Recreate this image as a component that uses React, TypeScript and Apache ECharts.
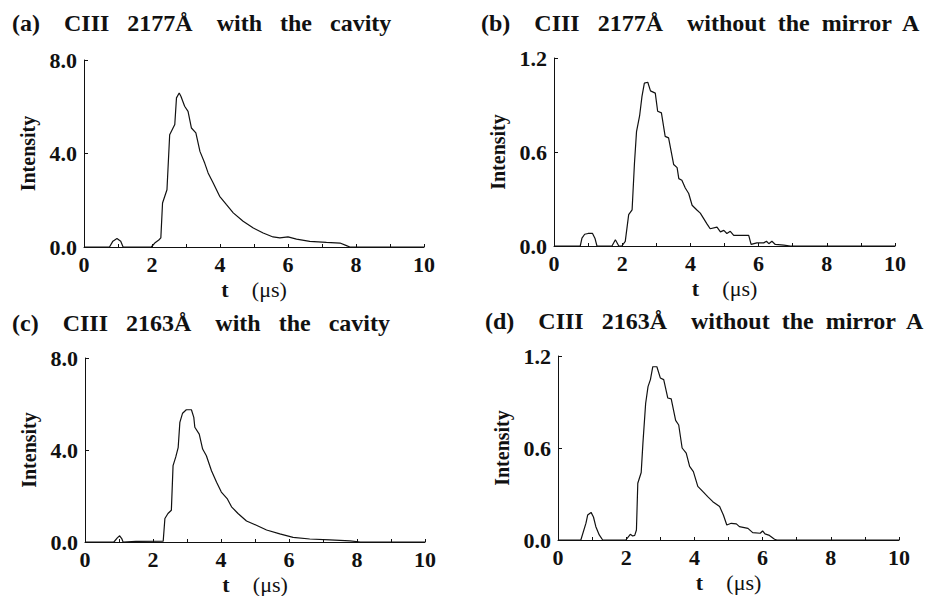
import React, { useEffect, useRef } from "react";
import * as echarts from "echarts";

// Panel (a): CIII 2177Å with the cavity
const tA = [0, 0.75, 0.85, 0.97, 1.08, 1.15, 1.98, 2.08, 2.2, 2.26, 2.31, 2.44, 2.52, 2.67, 2.72, 2.8, 2.85, 2.96, 3.06, 3.16, 3.29, 3.41, 3.55, 3.65, 3.8, 3.99, 4.19, 4.39, 4.68, 4.98, 5.27, 5.56, 5.76, 6.0, 6.25, 6.64, 7.13, 7.53, 7.72, 7.82, 10];
const iA = [0, 0, 0.25, 0.36, 0.25, 0, 0, 0.17, 0.3, 0.39, 1.88, 2.45, 4.8, 5.24, 6.38, 6.59, 6.45, 6.02, 5.8, 5.09, 4.88, 4.09, 3.59, 3.17, 2.74, 2.17, 1.81, 1.46, 1.1, 0.81, 0.6, 0.43, 0.39, 0.43, 0.34, 0.24, 0.2, 0.17, 0.06, 0, 0];

// Panel (b): CIII 2177Å without the mirror A
const tB = [0, 0.77, 0.82, 0.9, 1.0, 1.13, 1.2, 1.26, 1.7, 1.8, 1.9, 1.99, 2.09, 2.19, 2.29, 2.36, 2.42, 2.51, 2.58, 2.65, 2.75, 2.83, 2.97, 3.04, 3.15, 3.26, 3.36, 3.51, 3.61, 3.66, 3.75, 3.85, 3.95, 4.05, 4.19, 4.29, 4.39, 4.49, 4.58, 4.78, 4.88, 4.98, 5.07, 5.17, 5.27, 5.71, 5.78, 5.95, 6.15, 6.23, 6.3, 6.39, 6.49, 6.74, 6.93, 10];
const iB = [0, 0, 0.05, 0.075, 0.08, 0.08, 0.05, 0, 0, 0.04, 0, 0, 0.03, 0.2, 0.23, 0.53, 0.73, 0.83, 0.955, 1.04, 1.045, 0.99, 0.976, 0.86, 0.85, 0.7, 0.69, 0.52, 0.5, 0.43, 0.42, 0.37, 0.335, 0.26, 0.23, 0.21, 0.175, 0.14, 0.11, 0.12, 0.09, 0.1, 0.08, 0.094, 0.068, 0.068, 0.01, 0.02, 0.02, 0.03, 0.015, 0.03, 0.01, 0.005, 0, 0];

// Panel (c): CIII 2163Å with the cavity
const tC = [0, 0.85, 0.95, 1.02, 1.08, 1.12, 1.5, 2.3, 2.35, 2.44, 2.54, 2.59, 2.67, 2.74, 2.79, 2.87, 2.98, 3.13, 3.2, 3.23, 3.36, 3.46, 3.57, 3.72, 3.87, 4.01, 4.18, 4.31, 4.5, 4.75, 5.04, 5.34, 5.73, 6.12, 6.61, 7.2, 7.79, 8.1, 10];
const iC = [0, 0, 0.18, 0.27, 0.15, 0, 0.03, 0.04, 1.02, 1.24, 1.38, 3.32, 3.7, 4.1, 5.2, 5.6, 5.75, 5.75, 5.42, 4.99, 4.69, 4.04, 3.75, 3.1, 2.6, 2.17, 1.89, 1.53, 1.24, 0.91, 0.73, 0.52, 0.35, 0.2, 0.13, 0.09, 0.05, 0, 0];

// Panel (d): CIII 2163Å without the mirror A
const tD = [0, 0.67, 0.82, 0.87, 0.97, 1.04, 1.11, 1.21, 1.31, 1.99, 2.12, 2.19, 2.25, 2.3, 2.34, 2.44, 2.49, 2.57, 2.64, 2.71, 2.78, 2.9, 3.0, 3.1, 3.22, 3.32, 3.45, 3.54, 3.64, 3.76, 3.86, 3.97, 4.1, 4.25, 4.39, 4.54, 4.74, 4.85, 4.95, 5.08, 5.23, 5.32, 5.57, 5.71, 5.93, 6.0, 6.07, 6.2, 6.35, 6.42, 10];
const iD = [0, 0, 0.11, 0.163, 0.18, 0.15, 0.087, 0.033, 0, 0, 0.037, 0.026, 0.03, 0.065, 0.37, 0.44, 0.63, 0.89, 1.0, 1.046, 1.13, 1.13, 1.057, 1.046, 0.926, 0.92, 0.78, 0.75, 0.6, 0.566, 0.48, 0.446, 0.35, 0.316, 0.283, 0.25, 0.218, 0.163, 0.098, 0.109, 0.105, 0.087, 0.076, 0.048, 0.044, 0.059, 0.04, 0.03, 0.005, 0, 0];

const titles = [
  "(a)    CIII   2177Å    with   the   cavity",
  "(b)    CIII   2177Å    without  the  mirror  A",
  "(c)    CIII   2163Å    with   the   cavity",
  "(d)    CIII   2163Å    without  the  mirror  A",
];
const xTicks = [0, 2, 4, 6, 8, 10];
const yMaxes = [8, 1.2, 8, 1.2];
const yIntervals = [4, 0.6, 4, 0.6];

const SERIF = "'Liberation Serif', 'Times New Roman', serif";

export default function App() {
  const ref = useRef<HTMLDivElement>(null);
  useEffect(() => {
    if (!ref.current) return;
    const chart = echarts.init(ref.current, null, { renderer: "svg" });
    const grids = [
      { left: 84, top: 60, width: 340, height: 187 },
      { left: 554, top: 58, width: 341, height: 188 },
      { left: 85, top: 358, width: 340, height: 186 },
      { left: 558, top: 356, width: 341, height: 184 },
    ];
    const titlePos = [
      { left: 12, top: 11 },
      { left: 481, top: 11 },
      { left: 12, top: 311 },
      { left: 485, top: 309 },
    ];
    const data = [
      tA.map((t, i) => [t, iA[i]]),
      tB.map((t, i) => [t, iB[i]]),
      tC.map((t, i) => [t, iC[i]]),
      tD.map((t, i) => [t, iD[i]]),
    ];
    const option: any = {
      animation: false,
      backgroundColor: "#fff",
      title: titles.map((text, k) => ({
        text,
        ...titlePos[k],
        padding: 0,
        textStyle: { fontFamily: SERIF, fontWeight: "bold", fontSize: 24, color: "#111" },
      })),
      grid: grids.map((g) => ({ ...g, containLabel: false })),
      xAxis: grids.map((_, k) => ({
        type: "value",
        gridIndex: k,
        min: 0,
        max: 10,
        interval: 1,
        name: "{b|t}       {n|(μs)}",
        nameLocation: "middle",
        nameGap: 31,
        nameTextStyle: {
          rich: {
            b: { fontFamily: SERIF, fontWeight: "bold", fontSize: 22, color: "#111" },
            n: { fontFamily: SERIF, fontSize: 22, color: "#111" },
          },
        },
        axisLine: { show: true, onZero: false, lineStyle: { color: "#111", width: 1 } },
        axisTick: { show: true, inside: true, length: 3, lineStyle: { color: "#111", width: 1 } },
        splitLine: { show: false },
        axisLabel: {
          margin: 6,
          fontFamily: SERIF,
          fontWeight: "bold",
          fontSize: 22,
          color: "#111",
          formatter: (v: number) => (xTicks.includes(v) ? String(v) : ""),
        },
      })),
      yAxis: grids.map((_, k) => ({
        type: "value",
        gridIndex: k,
        min: 0,
        max: yMaxes[k],
        interval: yIntervals[k],
        name: "Intensity",
        nameLocation: "middle",
        nameRotate: 90,
        nameGap: 46,
        nameTextStyle: { fontFamily: SERIF, fontWeight: "bold", fontSize: 20, color: "#111" },
        axisLine: { show: true, lineStyle: { color: "#111", width: 1 } },
        axisTick: { show: true, inside: true, length: 4, lineStyle: { color: "#111", width: 1 } },
        splitLine: { show: false },
        axisLabel: {
          margin: 7,
          fontFamily: SERIF,
          fontWeight: "bold",
          fontSize: 22,
          color: "#111",
          formatter: (v: number) => v.toFixed(1),
        },
      })),
      series: data.map((d, k) => ({
        type: "line",
        xAxisIndex: k,
        yAxisIndex: k,
        data: d,
        showSymbol: false,
        symbol: "none",
        lineStyle: { color: "#111", width: 1.2 },
        silent: true,
      })),
    };
    chart.setOption(option);
    return () => chart.dispose();
  }, []);
  return (
    <div
      ref={ref}
      style={{ position: "absolute", left: 0, top: 0, width: 937, height: 596, background: "#fff" }}
    />
  );
}
